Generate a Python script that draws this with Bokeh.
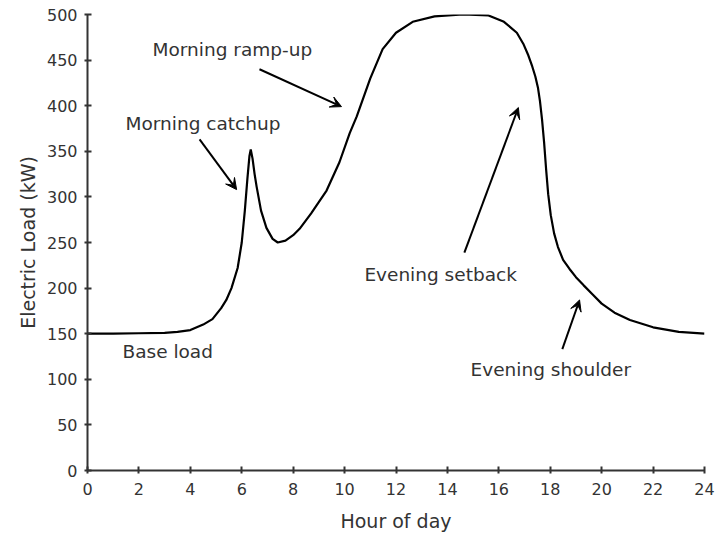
from bokeh.plotting import figure
from bokeh.models import Range1d, Label, Arrow, VeeHead, FixedTicker
from bokeh.embed import file_html
from bokeh.resources import INLINE

# Data
hours = [0, 1, 2, 3, 3.5, 4, 4.5, 4.86, 5.2, 5.4, 5.6, 5.84, 6.0, 6.12, 6.22, 6.3, 6.35,
         6.42, 6.5, 6.58, 6.75, 6.96, 7.2, 7.4, 7.7, 8.0, 8.25, 8.7, 9.3, 9.8, 10.2, 10.47,
         11.0, 11.48, 12.0, 12.65, 13.5, 14.6, 15.6, 16.2, 16.7, 16.95, 17.15, 17.3, 17.42,
         17.52, 17.6, 17.68, 17.76, 17.84, 17.92, 18.02, 18.15, 18.3, 18.5, 18.75, 19.0,
         19.3, 19.65, 20.0, 20.5, 21.1, 22, 23, 24]
load_kw = [150, 150, 150.5, 151, 152, 154, 160, 166, 178, 187, 200, 222, 250, 285, 320, 345, 352,
           342, 325, 311, 285, 266, 254, 250, 252, 258, 265, 282, 307, 338, 370, 388,
           430, 462, 480, 492, 498, 500, 499, 492, 480, 468, 455, 443, 432,
           420, 405, 385, 360, 330, 303, 280, 260, 245, 231, 221, 212,
           203, 193, 183, 173, 165, 157, 152, 150]

x_ticks = [0, 2, 4, 6, 8, 10, 12, 14, 16, 18, 20, 22, 24]
y_ticks = [0, 50, 100, 150, 200, 250, 300, 350, 400, 450, 500]

notes = ["Morning ramp-up", "Morning catchup", "Base load", "Evening setback", "Evening shoulder"]

TEXT = "#333333"
FONT = "DejaVu Sans"

p = figure(width=716, height=538, output_backend="svg", toolbar_location=None,
           x_range=Range1d(0, 24), y_range=Range1d(0, 500),
           min_border_left=87, min_border_right=12, min_border_top=14, min_border_bottom=68)
p.outline_line_color = None
p.xgrid.visible = False
p.ygrid.visible = False
p.background_fill_color = "white"

p.line(hours, load_kw, line_color="black", line_width=2.2)

for ax in (p.xaxis[0], p.yaxis[0]):
    ax.axis_line_color = TEXT
    ax.axis_line_width = 2
    ax.major_tick_line_color = TEXT
    ax.major_tick_line_width = 2
    ax.major_tick_in = 4
    ax.major_tick_out = 3
    ax.minor_tick_line_color = None
    ax.major_label_text_font = FONT
    ax.major_label_text_font_size = "16px"
    ax.major_label_text_color = TEXT
    ax.axis_label_text_font = FONT
    ax.axis_label_text_font_size = "19px"
    ax.axis_label_text_font_style = "normal"
    ax.axis_label_text_color = TEXT

p.xaxis.ticker = FixedTicker(ticks=x_ticks)
p.yaxis.ticker = FixedTicker(ticks=y_ticks)
p.xaxis.axis_label = "Hour of day"
p.yaxis.axis_label = "Electric Load (kW)"
p.xaxis.major_label_standoff = 9
p.yaxis.major_label_standoff = 7
p.xaxis.axis_label_standoff = 12
p.yaxis.axis_label_standoff = 5

label_pos = [(2.53, 462), (1.48, 381), (1.36, 130), (10.77, 215), (14.9, 111)]
for txt, (lx, ly) in zip(notes, label_pos):
    p.add_layout(Label(x=lx, y=ly, text=txt, text_font=FONT, text_font_size="18.5px",
                       text_color=TEXT, text_align="left", text_baseline="middle"))

arrows = [((6.69, 440), (9.88, 399)),
          ((4.36, 363), (5.80, 308)),
          ((14.66, 239), (16.76, 398)),
          ((18.47, 133), (19.14, 187))]
for (x0, y0), (x1, y1) in arrows:
    p.add_layout(Arrow(x_start=x0, y_start=y0, x_end=x1, y_end=y1,
                       line_color="black", line_width=2,
                       end=VeeHead(size=11, fill_color="black", line_color="black", line_width=1)))

open("out.html", "w").write(file_html(p, INLINE))
